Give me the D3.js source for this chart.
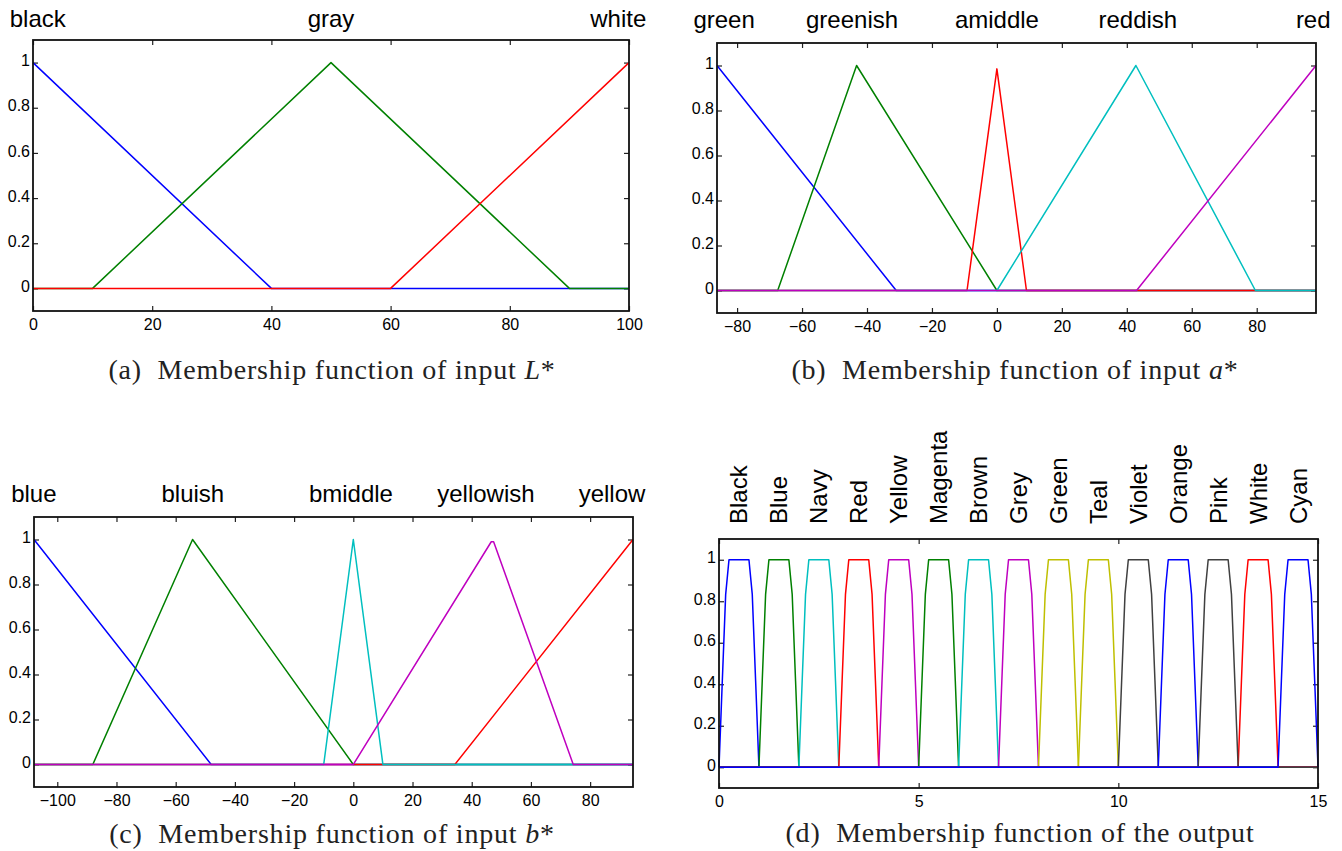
<!DOCTYPE html>
<html>
<head>
<meta charset="utf-8">
<script src="https://cdn.jsdelivr.net/npm/d3@7"></script>
<style>
  body { margin: 0; background: #fff; }
  svg { display: block; }
  .tick text { font-family: "Liberation Sans", Arial, sans-serif; font-size: 16px; fill: #000; }
  .mf-name { font-family: "Liberation Sans", Arial, sans-serif; font-size: 24px; fill: #000; }
  .caption { font-family: "Liberation Serif", "Times New Roman", serif; font-size: 28px; fill: #222; letter-spacing: 0.8px; }
</style>
</head>
<body>
<svg id="chart" width="1342" height="851"></svg>
<script>
// MATLAB default line colours
const cBlue = "#0000ff", cGreen = "#008000", cRed = "#ff0000", cCyan = "#00bfbf",
      cMagenta = "#bf00bf", cYellow = "#bfbf00", cGrey = "#404040";

// (a) input L*
const lDomain = [0, 100];
const lTicks = [0, 20, 40, 60, 80, 100];
const lNames = ["black", "gray", "white"];
const lLabelX = [0.8, 50, 98.2];
const lColors = [cBlue, cGreen, cRed];
const lCurves = [
  [[0, 1], [40, 0], [100, 0]],
  [[0, 0], [10, 0], [50, 1], [90, 0], [100, 0]],
  [[0, 0], [60, 0], [100, 1]]
];
const lOrder = [0, 1, 2];

// (b) input a*
const aDomain = [-86.185, 98.254];
const aTicks = [-80, -60, -40, -20, 0, 20, 40, 60, 80];
const aNames = ["green", "greenish", "amiddle", "reddish", "red"];
const aLabelX = [-84, -44.6, 0, 43.4, 97.4];
const aColors = [cBlue, cGreen, cRed, cCyan, cMagenta];
const aCurves = [
  [[-86.185, 1], [-31, 0], [98.254, 0]],
  [[-86.185, 0], [-67.5, 0], [-43.2, 1], [0, 0], [98.254, 0]],
  [[-86.185, 0], [-9.2, 0], [0, 0.985], [9.1, 0], [98.254, 0]],
  [[-86.185, 0], [0, 0], [42.8, 1], [79.6, 0], [98.254, 0]],
  [[-86.185, 0], [43, 0], [98.254, 1]]
];
const aOrder = [0, 1, 2, 3, 4];

// (c) input b*
const bDomain = [-107.863, 94.482];
const bTicks = [-100, -80, -60, -40, -20, 0, 20, 40, 60, 80];
const bNames = ["blue", "bluish", "bmiddle", "yellowish", "yellow"];
const bLabelX = [-107.9, -54.2, -0.8, 44.8, 87.4];
const bColors = [cBlue, cGreen, cCyan, cMagenta, cRed];
const bCurves = [
  [[-107.863, 1], [-48, 0], [94.482, 0]],
  [[-107.863, 0], [-88, 0], [-54.3, 1], [0, 0], [94.482, 0]],
  [[-107.863, 0], [-10, 0], [0, 1], [10, 0], [94.482, 0]],
  [[-107.863, 0], [0, 0], [46.6, 0.99], [47.4, 0.99], [74.3, 0], [94.482, 0]],
  [[-107.863, 0], [34.3, 0], [94.482, 1]]
];
const bOrder = [0, 1, 4, 2, 3];

// (d) output
const oDomain = [0, 15];
const oTicks = [0, 5, 10, 15];
const oNames = ["Black", "Blue", "Navy", "Red", "Yellow", "Magenta", "Brown", "Grey",
                "Green", "Teal", "Violet", "Orange", "Pink", "White", "Cyan"];
const oStart = [0, 1, 2, 3, 4, 5, 6, 7, 8, 9, 10, 11, 12, 13, 14];
const oShape = [[0, 0], [0.083, 0.417], [0.167, 0.833], [0.25, 1], [0.75, 1],
                [0.833, 0.833], [0.917, 0.417], [1, 0]];
const oColors = [cBlue, cGreen, cCyan, cRed, cMagenta, cGreen, cCyan, cMagenta,
                 cYellow, cYellow, cGrey, cBlue, cGrey, cRed, cBlue];
const oOrder = [0, 1, 2, 3, 4, 5, 6, 7, 8, 9, 10, 11, 13, 12, 14];
const oCurves = oStart.map(s => [[oDomain[0], 0]].concat(oShape.map(p => [s + p[0], p[1]]), [[oDomain[1], 0]]));
const oLabelX = oStart.map(s => s + 0.5);

const yDomain = [-0.1, 1.1];
const yTicks = [0, 0.2, 0.4, 0.6, 0.8, 1];

const svg = d3.select("#chart");
svg.append("rect").attr("width", 1342).attr("height", 851).attr("fill", "#fff");

function drawPanel(p) {
  const x = d3.scaleLinear().domain(p.domain).range([p.left, p.right]);
  const y = d3.scaleLinear().domain(yDomain).range([p.bottom, p.top]);
  const g = svg.append("g");
  const fmt = d => d3.format("")(d).replace("-", "\u2212");

  // inward ticks on all four sides
  g.append("g").attr("transform", `translate(0,${p.bottom})`)
    .call(d3.axisBottom(x).tickValues(p.ticks).tickSize(-5).tickSizeOuter(0).tickPadding(8).tickFormat(fmt));
  g.append("g").attr("transform", `translate(0,${p.top})`)
    .call(d3.axisTop(x).tickValues(p.ticks).tickSize(-5).tickSizeOuter(0).tickFormat(""));
  g.append("g").attr("transform", `translate(${p.left},0)`)
    .call(d3.axisLeft(y).tickValues(yTicks).tickSize(-5).tickSizeOuter(0).tickPadding(3).tickFormat(d3.format("")))
    .selectAll("text").attr("dy", "0.2em");
  g.append("g").attr("transform", `translate(${p.right},0)`)
    .call(d3.axisRight(y).tickValues(yTicks).tickSize(-5).tickSizeOuter(0).tickFormat(""));
  g.selectAll(".domain").remove();
  g.selectAll(".tick line").attr("stroke", "#222").attr("stroke-width", 1.2);

  const line = d3.line().x(d => x(d[0])).y(d => y(d[1]));
  p.order.forEach(i => {
    g.append("path").datum(p.curves[i])
      .attr("d", line)
      .attr("fill", "none")
      .attr("stroke", p.colors[i])
      .attr("stroke-width", 1.5)
      .attr("stroke-linejoin", "round");
  });

  g.append("rect")
    .attr("x", p.left).attr("y", p.top)
    .attr("width", p.right - p.left).attr("height", p.bottom - p.top)
    .attr("fill", "none").attr("stroke", "#111").attr("stroke-width", 1.8);

  if (p.rotated) {
    g.selectAll(".mf-name").data(p.names).join("text")
      .attr("class", "mf-name")
      .attr("transform", (d, i) => `translate(${x(p.labelX[i])},${p.labelY}) rotate(-90)`)
      .attr("dominant-baseline", "central")
      .attr("text-anchor", "start")
      .text(d => d);
  } else {
    g.selectAll(".mf-name").data(p.names).join("text")
      .attr("class", "mf-name")
      .attr("x", (d, i) => x(p.labelX[i]))
      .attr("y", p.labelY)
      .attr("text-anchor", "middle")
      .text(d => d);
  }

  const cap = g.append("text").attr("class", "caption")
    .attr("x", p.capX).attr("y", p.capY).attr("text-anchor", "middle");
  cap.append("tspan").text(p.caption);
  if (p.capVar) {
    cap.append("tspan").attr("font-style", "italic").text("\u00a0" + p.capVar);
    cap.append("tspan").text("*");
  }
}

drawPanel({ domain: lDomain, ticks: lTicks, names: lNames, labelX: lLabelX, colors: lColors,
  curves: lCurves, order: lOrder, left: 33, right: 629, top: 40, bottom: 311, labelY: 27,
  caption: "(a)\u00a0\u00a0Membership function of input", capVar: "L", capX: 332, capY: 379 });

drawPanel({ domain: aDomain, ticks: aTicks, names: aNames, labelX: aLabelX, colors: aColors,
  curves: aCurves, order: aOrder, left: 717, right: 1316, top: 43, bottom: 313, labelY: 28,
  caption: "(b)\u00a0\u00a0Membership function of input", capVar: "a", capX: 1015, capY: 379 });

drawPanel({ domain: bDomain, ticks: bTicks, names: bNames, labelX: bLabelX, colors: bColors,
  curves: bCurves, order: bOrder, left: 34, right: 633, top: 517, bottom: 787, labelY: 502,
  caption: "(c)\u00a0\u00a0Membership function of input", capVar: "b", capX: 332, capY: 843 });

drawPanel({ domain: oDomain, ticks: oTicks, names: oNames, labelX: oLabelX, colors: oColors,
  curves: oCurves, order: oOrder, left: 719, right: 1318, top: 539, bottom: 788, labelY: 524,
  rotated: true, caption: "(d)\u00a0\u00a0Membership function of the output", capX: 1020, capY: 842 });
</script>
</body>
</html>
